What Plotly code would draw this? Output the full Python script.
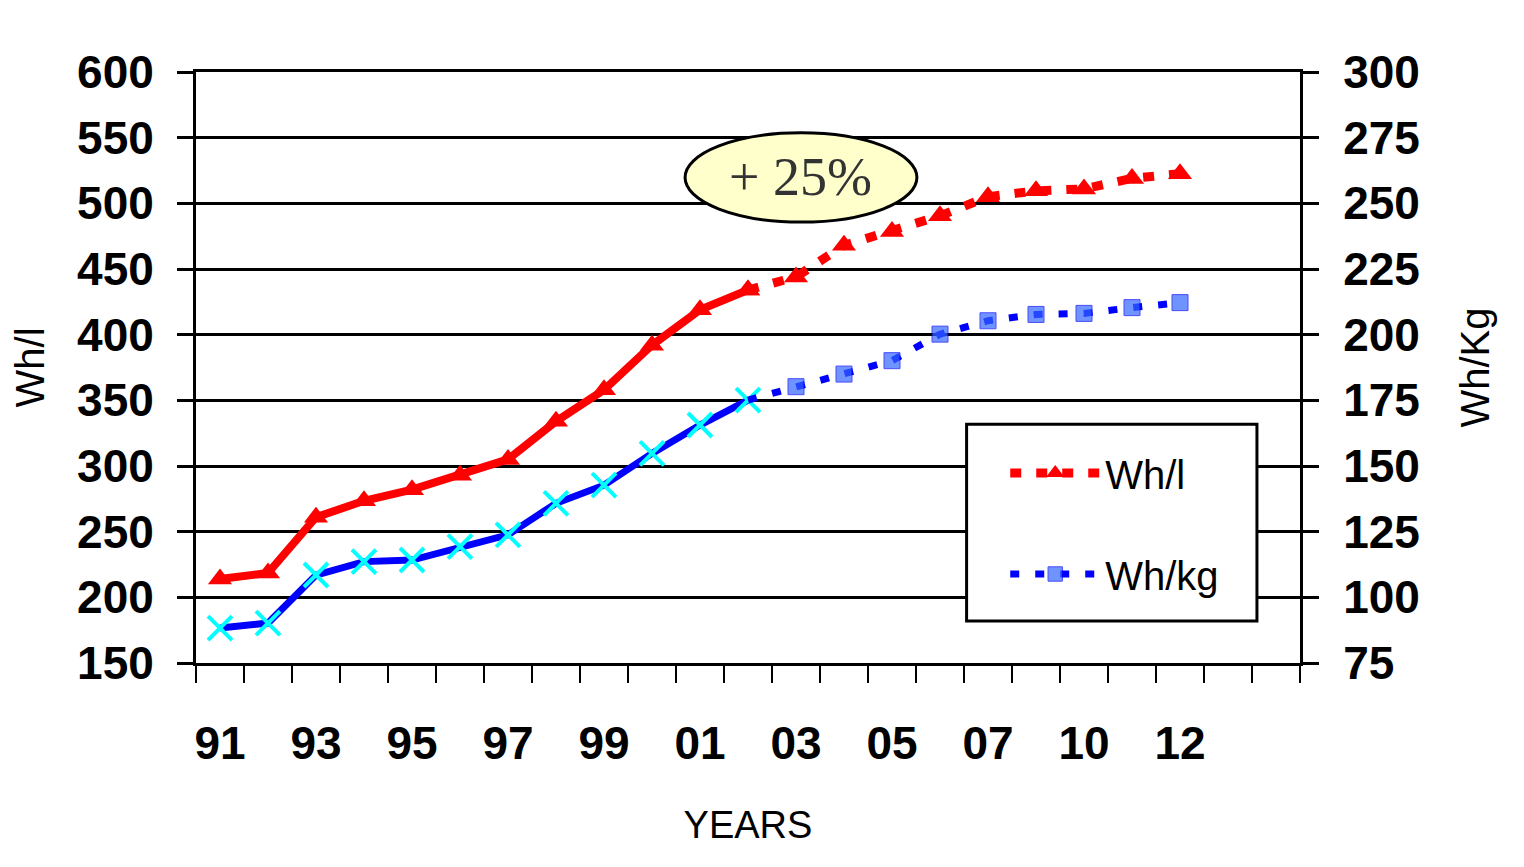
import plotly.graph_objects as go

# ---- data ----
years = ["91", "92", "93", "94", "95", "96", "97", "98", "99", "00", "01",
         "02", "03", "04", "05", "06", "07", "08", "10", "11", "12"]
wh_l = [214, 218.5, 261, 273.5, 282, 293, 305, 334, 358, 392, 419,
        434, 444, 468, 478.5, 490.5, 505, 509.5, 511, 519, 522.5]
wh_kg = [88.3, 90.2, 108.5, 113.6, 114.2, 119.3, 123.8, 135.8, 142.7, 154.8, 165.6,
         175.1, 180.2, 185, 190.1, 200.2, 205.3, 207.7, 208.1, 210.3, 212.2]
split = 11          # last actual value; forecast after this index
n_slots = 23        # category slots on the x axis
left_ticks = [150, 200, 250, 300, 350, 400, 450, 500, 550, 600]
right_ticks = [75, 100, 125, 150, 175, 200, 225, 250, 275, 300]

xs = list(range(len(years)))
xs_solid = xs[:split + 1]
xs_dot = xs[split:]

FONT = "Liberation Sans, Arial, sans-serif"
RED = "#FF0000"
BLUE = "#0000FF"

fig = go.Figure()

# red solid (measured)
fig.add_trace(go.Scatter(
    x=xs_solid, y=wh_l[:split + 1], mode="lines+markers", yaxis="y",
    line=dict(color=RED, width=8),
    marker=dict(symbol="triangle-up", size=21, color=RED),
    legendgroup="l", showlegend=False, name="Wh/l"))
# red dotted (forecast)
fig.add_trace(go.Scatter(
    x=xs_dot, y=wh_l[split:], mode="lines+markers", yaxis="y",
    line=dict(color=RED, width=9, dash="11px,15px"),
    marker=dict(symbol="triangle-up", size=21, color=RED),
    legendgroup="l", showlegend=True, name="Wh/l"))

# blue solid (measured)
fig.add_trace(go.Scatter(
    x=xs_solid, y=wh_kg[:split + 1], mode="lines+markers", yaxis="y2",
    line=dict(color=BLUE, width=7),
    marker=dict(symbol="x-thin", size=24, color="#00FFFF",
                line=dict(color="#00FFFF", width=4)),
    legendgroup="kg", showlegend=False, name="Wh/kg"))
# blue dotted (forecast)
dot_sizes = [0] + [16] * (len(xs_dot) - 1)
fig.add_trace(go.Scatter(
    x=xs_dot, y=wh_kg[split:], mode="lines+markers", yaxis="y2",
    line=dict(color=BLUE, width=7, dash="9px,16px"),
    marker=dict(symbol="square", size=dot_sizes, color="#3366FF"),
    legendgroup="kg", showlegend=True, name="Wh/kg"))

fig.update_layout(
    width=1524, height=867,
    margin=dict(l=188, r=232, t=64, b=212),
    paper_bgcolor="white", plot_bgcolor="white",
    font=dict(family=FONT, color="black"),
    xaxis=dict(
        range=[-0.5, n_slots - 0.5],
        tickmode="array", tickvals=xs[::2], ticktext=years[::2],
        ticks="", showgrid=False, zeroline=False,
        showline=True, linewidth=3, linecolor="black", mirror=True,
        tickfont=dict(family=FONT, size=46, color="black", weight="bold"),
        ticklabelstandoff=38,
        minor=dict(tickmode="linear", tick0=-0.5, dtick=1, ticks="outside",
                   ticklen=17, tickwidth=2, tickcolor="black", showgrid=False),
        title=dict(text="YEARS", font=dict(family=FONT, size=38, color="black"),
                   standoff=44),
    ),
    yaxis=dict(
        range=[150, 600], tickmode="array", tickvals=left_ticks,
        showgrid=True, gridcolor="black", gridwidth=3, zeroline=False,
        showline=True, linewidth=3, linecolor="black",
        ticks="outside", ticklen=16, tickwidth=3, tickcolor="black",
        tickfont=dict(family=FONT, size=46, color="black", weight="bold"),
        ticklabelstandoff=14,
        title=dict(text="Wh/l", font=dict(family=FONT, size=40, color="black"),
                   standoff=21),
    ),
    yaxis2=dict(
        range=[75, 300], tickmode="array", tickvals=right_ticks,
        overlaying="y", side="right", showgrid=False, zeroline=False,
        showline=True, linewidth=3, linecolor="black",
        ticks="outside", ticklen=16, tickwidth=3, tickcolor="black",
        tickfont=dict(family=FONT, size=46, color="black", weight="bold"),
        ticklabelstandoff=15,
        title=dict(text="Wh/Kg", font=dict(family=FONT, size=40, color="black"),
                   standoff=43),
    ),
    legend=dict(
        x=0.733, y=0.3765, xanchor="left", yanchor="top",
        bgcolor="rgba(0,0,0,0)", borderwidth=0,
        font=dict(family=FONT, size=40, color="black"),
        traceorder="grouped", tracegroupgap=46, itemwidth=90,
    ),
    shapes=[
        # legend box
        dict(type="rect", xref="paper", yref="paper",
             x0=0.698, x1=0.961, y0=0.071, y1=0.404,
             line=dict(color="black", width=3), fillcolor="white", layer="above"),
        # callout ellipse
        dict(type="circle", xref="paper", yref="paper",
             x0=0.443, x1=0.653, y0=0.746, y1=0.897,
             line=dict(color="black", width=3), fillcolor="#FFFFCC", layer="above"),
    ],
    annotations=[
        dict(text="+ 25%", xref="paper", yref="paper", x=0.548, y=0.8215,
             xanchor="center", yanchor="middle", showarrow=False,
             font=dict(family="Liberation Serif, Times New Roman, serif",
                       size=54, color="#333333")),
    ],
)

fig.write_html("out.html")
